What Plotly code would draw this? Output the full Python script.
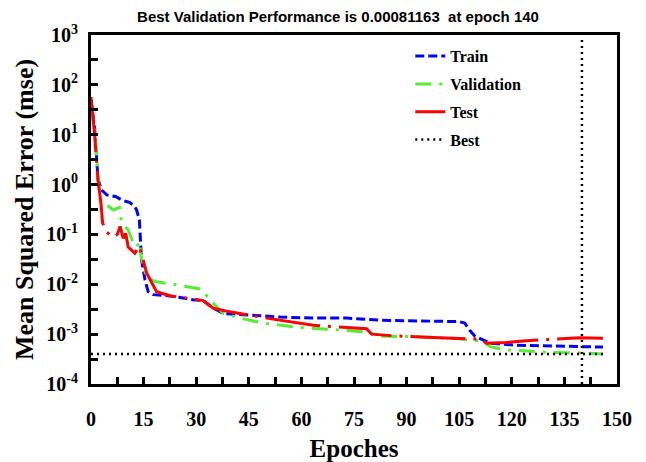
import plotly.graph_objects as go

# ---- data ----
train_epoch = [0, 1, 2, 3, 4.5, 7, 9, 11, 12.5, 13, 13.8, 14, 14.4, 15.4, 16.3, 17.8, 22, 25, 29, 32,
               35, 37.7, 44.4, 54, 63, 73, 83, 93, 105, 106.6, 108, 109.5, 113.8, 121.4, 131, 139.4, 146]
train_mse = [50, 14.5, 1.3, 0.78, 0.62, 0.575, 0.48, 0.44, 0.36, 0.31, 0.195, 0.105, 0.031, 0.0123, 0.0071,
             0.0062, 0.0059, 0.0055, 0.0049, 0.0047, 0.0033, 0.0026, 0.0024, 0.0022, 0.0021, 0.0021, 0.0019,
             0.00186, 0.00178, 0.00166, 0.0012, 0.00091, 0.00066, 0.0006, 0.00058, 0.00055, 0.00055]

val_epoch = [0, 1.1, 2.6, 4.5, 6.4, 8.1, 8.7, 9.7, 10.6, 12.1, 13, 13.8, 14.4, 15.9, 18.7, 23.5, 28.2, 31.6,
             33.9, 37.7, 42.5, 49.1, 58.7, 68.2, 77.6, 83.4, 92.9, 105.2, 111.9, 113.8, 118.5, 124.2, 130.9,
             139.4, 146]
val_mse = [40, 10.7, 0.49, 0.39, 0.31, 0.35, 0.18, 0.145, 0.123, 0.066, 0.056, 0.071, 0.033, 0.0132, 0.0112,
           0.010, 0.0087, 0.0079, 0.0049, 0.0026, 0.0021, 0.00166, 0.00138, 0.00126, 0.00112, 0.00091, 0.00089,
           0.00081, 0.00071, 0.00056, 0.00048, 0.00046, 0.00043, 0.00042, 0.00040]

test_epoch = [0, 1, 2, 2.8, 3.3, 4.5, 6.4, 7.5, 8.3, 9.2, 9.9, 10.6, 12.5, 13.8, 15.9, 18.7, 22.5, 25.4, 29.2,
              32, 34.9, 39.6, 45.3, 51.9, 63.4, 69, 78.6, 80, 86, 95.7, 105.2, 111, 112.8, 118.5, 124.2,
              130.9, 139.4, 146]
test_mse = [57, 10.7, 1.2, 0.45, 0.17, 0.11, 0.088, 0.10, 0.145, 0.083, 0.105, 0.056, 0.042, 0.058, 0.0166,
            0.0071, 0.0059, 0.0055, 0.0049, 0.0047, 0.0033, 0.0028, 0.0024, 0.0020, 0.00151, 0.00141, 0.00128,
            0.0010, 0.00093, 0.00087, 0.00083, 0.00079, 0.00066, 0.00068, 0.00074, 0.00079, 0.00085, 0.00083]

best_epoch = 140
best_mse = 0.00040
last_epoch = 146

x_ticks = list(range(0, 151, 15))
y_exps = [-4, -3, -2, -1, 0, 1, 2, 3]

title_text = "Best Validation Performance is 0.00081163\u00a0 at epoch 140"

serif = "Times New Roman, Liberation Serif, serif"

fig = go.Figure()
fig.add_trace(go.Scatter(x=train_epoch, y=train_mse, mode="lines", name="Train", legendgroup="a",
                         line=dict(color="#0000ff", width=3, dash="9px,4px")))
fig.add_trace(go.Scatter(x=val_epoch, y=val_mse, mode="lines", name="Validation", legendgroup="b",
                         line=dict(color="#55ee33", width=3, dash="16px,8px,3px,8px")))
fig.add_trace(go.Scatter(x=test_epoch, y=test_mse, mode="lines", name="Test", legendgroup="c",
                         line=dict(color="#ff0000", width=3, dash="55px,8px,3px,8px")))
fig.add_trace(go.Scatter(x=[0, last_epoch, None, best_epoch, best_epoch],
                         y=[best_mse, best_mse, None, 1e-4, 10 ** 2.9],
                         mode="lines", name="Best", legendgroup="d",
                         line=dict(color="black", width=2.5, dash="2px,4px")))

fig.update_layout(
    width=646, height=462,
    margin=dict(l=91, r=29, t=35, b=78, autoexpand=False),
    paper_bgcolor="white", plot_bgcolor="white",
    title=dict(text=title_text, x=338 / 646, xanchor="center", xref="container",
               y=1 - 17 / 462, yanchor="middle", yref="container",
               font=dict(family="Liberation Sans Narrow, Arial Narrow, Liberation Sans, sans-serif",
                         size=15, color="black", weight="bold")),
    legend=dict(x=0.607, y=0.988, xanchor="left", yanchor="top", bgcolor="rgba(0,0,0,0)",
                font=dict(family=serif, size=16, color="black", weight="bold"),
                tracegroupgap=4, itemwidth=30),
    showlegend=True,
)

fig.update_xaxes(
    range=[0, 150], tickvals=x_ticks, ticks="inside", ticklen=7, tickwidth=2.5, tickcolor="black",
    minor=dict(dtick=7.5, ticks="inside", ticklen=7, tickwidth=2.5, tickcolor="black"),
    showline=True, linewidth=3, linecolor="black", mirror=True, showgrid=False, zeroline=False,
    automargin=False,
    tickfont=dict(family=serif, size=20, color="black", weight="bold"), ticklabelstandoff=15,
    title=dict(text="Epoches", font=dict(family=serif, size=25, color="black", weight="bold"), standoff=11),
)
fig.update_yaxes(
    type="log", range=[-4, 3], tickvals=[10 ** e for e in y_exps],
    ticktext=["10<sup>%d</sup>" % e for e in y_exps],
    ticks="inside", ticklen=7, tickwidth=2.5, tickcolor="black",
    minor=dict(tickvals=[10 ** (e + 0.5) for e in y_exps[:-1]], ticks="inside", ticklen=7,
               tickwidth=2.5, tickcolor="black"),
    showline=True, linewidth=3, linecolor="black", mirror=True, showgrid=False, zeroline=False,
    automargin=False,
    tickfont=dict(family=serif, size=20, color="black", weight="bold"), ticklabelstandoff=6,
    title=dict(text="Mean Squared Error (mse)", font=dict(family=serif, size=26, color="black", weight="bold"),
               standoff=6),
)

fig.write_html("out.html")
